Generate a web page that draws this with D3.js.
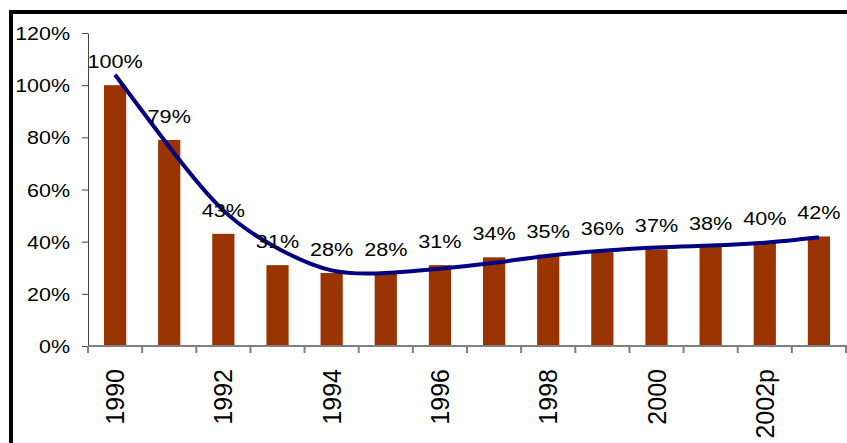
<!DOCTYPE html>
<html>
<head>
<meta charset="utf-8">
<script src="https://cdn.jsdelivr.net/npm/d3@7"></script>
<style>
    body { margin: 0; background: #fff; }
    svg { display: block; font-family: "Liberation Sans", Arial, sans-serif; }
</style>
</head>
<body>
<script>
// categories (years), only every other one is labelled
const years = ['1990', '1991', '1992', '1993', '1994', '1995', '1996',
    '1997', '1998', '1999', '2000', '2001', '2002p', '2003p'];
const shownYears = ['1990', '1992', '1994', '1996', '1998', '2000', '2002p'];

// bar values (%)
const values = [100, 79, 43, 31, 28, 28, 31, 34, 35, 36, 37, 38, 40, 42];

// trend line values (%) at each year
const trend = [104, 76.4, 52, 37.5, 29, 28, 29.6, 31.9, 34.6, 36.5, 37.8, 38.5, 39.6, 41.7];

// y tick labels
const yTicks = [0, 20, 40, 60, 80, 100, 120];

const width = 847;
const height = 443;

const svg = d3.select('body')
    .append('svg')
    .attr('width', width)
    .attr('height', height);

// outer frame (runs past the right and bottom edges)
svg.append('rect')
    .attr('x', 11)
    .attr('y', 12)
    .attr('width', 900)
    .attr('height', 500)
    .attr('fill', 'none')
    .attr('stroke', '#000')
    .attr('stroke-width', 4);

// scales
const x = d3.scaleBand()
    .domain(years)
    .range([88, 846])
    .paddingInner(0.59)
    .paddingOuter(0.295);

const y = d3.scaleLinear()
    .domain([0, 120])
    .range([346, 33]);

const step = x.step();
const xc = d => x(d) + x.bandwidth() / 2;

// bars
svg.selectAll('rect.bar')
    .data(values)
    .enter()
    .append('rect')
    .attr('class', 'bar')
    .attr('x', (d, i) => x(years[i]))
    .attr('y', d => y(d))
    .attr('width', x.bandwidth())
    .attr('height', d => y(0) - y(d))
    .attr('fill', '#993300');

// y axis
const yAxis = d3.axisLeft(y)
    .tickValues(yTicks)
    .tickSize(6)
    .tickSizeOuter(0)
    .tickFormat(d => d + '%');

const gy = svg.append('g')
    .attr('transform', 'translate(88, 0)')
    .call(yAxis);

gy.select('.domain').attr('stroke', '#444');
gy.selectAll('.tick line').attr('stroke', '#444');
gy.selectAll('.tick text')
    .attr('x', null)
    .attr('dy', '0.36em')
    .attr('transform', 'translate(-18, 0) scale(1.16, 1)')
    .attr('font-size', 18.5)
    .attr('font-family', '"Liberation Sans", Arial, sans-serif')
    .attr('fill', '#000');

// x axis: line and ticks between categories
const gx = svg.append('g');
gx.append('line')
    .attr('x1', 88)
    .attr('x2', width)
    .attr('y1', y(0))
    .attr('y2', y(0))
    .attr('stroke', '#808080')
    .attr('stroke-width', 2);

gx.selectAll('line.tick')
    .data(d3.range(years.length + 1))
    .enter()
    .append('line')
    .attr('class', 'tick')
    .attr('x1', i => 88 + i * step)
    .attr('x2', i => 88 + i * step)
    .attr('y1', y(0))
    .attr('y2', y(0) + 7)
    .attr('stroke', '#808080')
    .attr('stroke-width', 2);

gx.selectAll('text')
    .data(shownYears)
    .enter()
    .append('text')
    .attr('transform', d => 'translate(' + xc(d) + ', 369) rotate(-90)')
    .attr('text-anchor', 'end')
    .attr('dy', '0.36em')
    .attr('font-size', 25)
    .attr('fill', '#000')
    .text(d => d);

// trend line
const line = d3.line()
    .x((d, i) => xc(years[i]))
    .y(d => y(d))
    .curve(d3.curveNatural);

svg.append('path')
    .attr('d', line(trend))
    .attr('fill', 'none')
    .attr('stroke', '#000080')
    .attr('stroke-width', 4);

// value labels
svg.selectAll('text.val')
    .data(values)
    .enter()
    .append('text')
    .attr('class', 'val')
    .attr('transform', (d, i) => 'translate(' + xc(years[i]) + ', ' + (y(d) - 17) + ') scale(1.17, 1)')
    .attr('text-anchor', 'middle')
    .attr('font-size', 18.5)
    .attr('fill', '#000')
    .text(d => d + '%');
</script>
</body>
</html>
